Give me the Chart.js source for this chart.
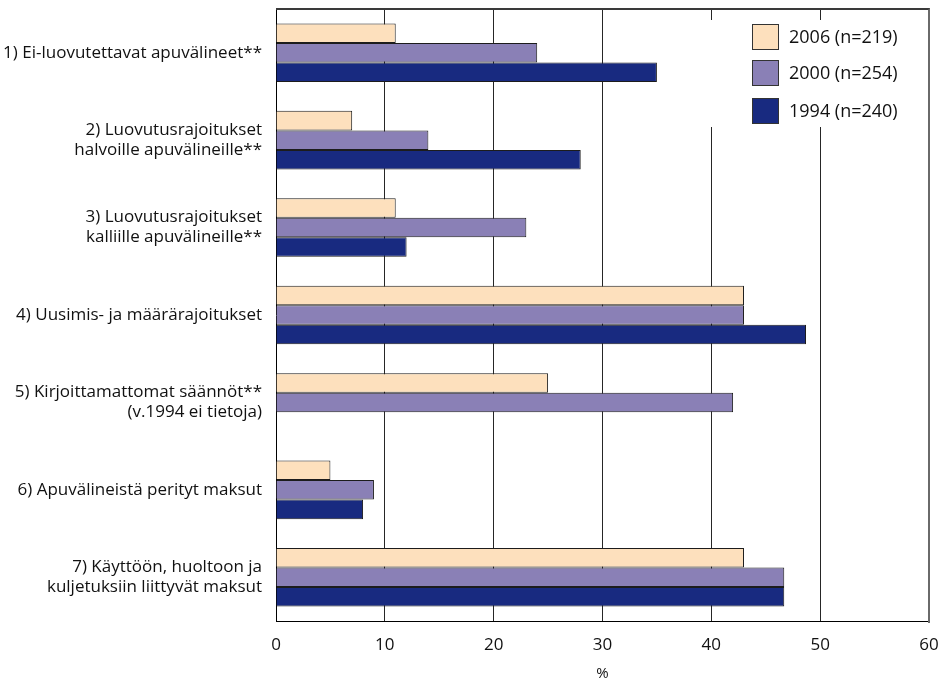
<!DOCTYPE html>
<html>
<head>
<meta charset="utf-8">
<script src="https://cdn.jsdelivr.net/npm/chart.js@4/dist/chart.umd.min.js"></script>
<style>
  html, body { margin: 0; padding: 0; background: #ffffff; }
  #wrap { position: relative; width: 941px; height: 684px; }
  #frame {
    position: absolute; left: 276px; top: 8px; width: 652px; height: 613px;
    border-top: 2px solid #3a3a3a; border-right: 2px solid #6a6a6a;
    pointer-events: none; box-sizing: content-box;
  }
</style>
</head>
<body>
<div id="wrap"><canvas id="c" width="941" height="684"></canvas><div id="frame"></div></div>
<script>
// Categories (multi-line labels are arrays of lines)
const categories = [
  ['1) Ei-luovutettavat apuvälineet**'],
  ['2) Luovutusrajoitukset', 'halvoille apuvälineille**'],
  ['3) Luovutusrajoitukset', 'kalliille apuvälineille**'],
  ['4) Uusimis- ja määrärajoitukset'],
  ['5) Kirjoittamattomat säännöt**', '(v.1994 ei tietoja)'],
  ['6) Apuvälineistä perityt maksut'],
  ['7) Käyttöön, huoltoon ja', 'kuljetuksiin liittyvät maksut']
];

// Survey rounds
const seriesNames = ['2006 (n=219)', '2000 (n=254)', '1994 (n=240)'];

// Percentages per category
const values2006 = [11, 7, 11, 43, 25, 5, 43];
const values2000 = [24, 14, 23, 43, 42, 9, 46.7];
const values1994 = [35, 28, 12, 48.7, null, 8, 46.7];

// Value axis ticks
const xTicks = [0, 10, 20, 30, 40, 50, 60];
const axisTitle = '%';

const FONT = '"Open Sans", "DejaVu Sans", sans-serif';
const colors = ['#fde0bd', '#8a80b6', '#182a80'];
const seriesValues = [values2006, values2000, values1994];

// keep the plot area at fixed edges: no extra label overhang padding
function noOverhang(s) {
  s.paddingLeft = 0; s.paddingRight = 0; s.paddingTop = 0; s.paddingBottom = 0;
}

// Top/right frame lines and the legend box inside the plot
const frameAndLegend = {
  id: 'frameAndLegend',
  afterDraw(chart) {
    const { ctx, chartArea: a } = chart;
    const L = Math.round(a.left), T = Math.round(a.top);
    const R = Math.round(a.right), B = Math.round(a.bottom);
    ctx.save();
    ctx.fillStyle = '#3a3a3a';
    ctx.fillRect(L, T - 1, R - L, 2);
    ctx.fillStyle = '#6a6a6a';
    ctx.fillRect(R - 1, T - 1, 2, B - T + 1);

    const bx = L + 435, by = T + 11;
    const bw = R - bx - 2, bh = 107;
    ctx.fillStyle = '#ffffff';
    ctx.fillRect(bx, by, bw, bh);

    const sx = L + 476, sw = 27, sh = 26;
    const rowCenters = [T + 28, T + 64, T + 102];
    ctx.font = '18px ' + FONT;
    ctx.textAlign = 'left';
    ctx.textBaseline = 'middle';
    ctx.lineWidth = 1;
    chart.data.datasets.forEach((ds, i) => {
      const cy = rowCenters[i];
      const top = Math.round(cy - sh / 2);
      ctx.fillStyle = ds.backgroundColor;
      ctx.fillRect(sx, top, sw, sh);
      ctx.strokeStyle = '#333333';
      ctx.strokeRect(sx + 0.5, top + 0.5, sw - 1, sh - 1);
      ctx.fillStyle = '#111111';
      ctx.fillText(ds.label, sx + 37, cy + 1);
    });
    ctx.restore();
  }
};

new Chart(document.getElementById('c'), {
  type: 'bar',
  data: {
    labels: categories,
    datasets: seriesNames.map((name, i) => ({
      label: name,
      data: seriesValues[i],
      backgroundColor: colors[i],
      borderColor: '#1c1c1c',
      borderWidth: 1,
      categoryPercentage: 0.67,
      barPercentage: 1.0
    }))
  },
  options: {
    indexAxis: 'y',
    responsive: false,
    devicePixelRatio: 1,
    animation: false,
    layout: { padding: { top: 9, right: 12, left: 0, bottom: 0 } },
    plugins: {
      legend: { display: false },
      tooltip: { enabled: false }
    },
    scales: {
      x: {
        type: 'linear',
        position: 'bottom',
        min: xTicks[0],
        max: xTicks[xTicks.length - 1],
        afterBuildTicks: (s) => { s.ticks = xTicks.map(v => ({ value: v })); },
        afterFit: (s) => { s.height = 63; noOverhang(s); },
        ticks: {
          color: '#111111',
          font: { family: FONT, size: 17 },
          padding: 14,
          maxRotation: 0
        },
        grid: {
          drawTicks: false,
          lineWidth: 1,
          color: (c) => (c.tick && (c.tick.value === xTicks[0] || c.tick.value === xTicks[xTicks.length - 1])) ? 'rgba(0,0,0,0)' : '#262626'
        },
        border: { display: true, color: '#000000', width: 1 },
        title: {
          display: true,
          text: axisTitle,
          color: '#111111',
          font: { family: FONT, size: 15 },
          padding: { top: 0, bottom: 1 }
        }
      },
      y: {
        type: 'category',
        afterFit: (s) => { s.width = 276; noOverhang(s); },
        ticks: {
          color: '#111111',
          font: { family: FONT, size: 17, lineHeight: 1.18 },
          padding: 14
        },
        grid: { display: false, drawTicks: false },
        border: { display: true, color: '#000000', width: 1 }
      }
    }
  },
  plugins: [frameAndLegend]
});
</script>
</body>
</html>
